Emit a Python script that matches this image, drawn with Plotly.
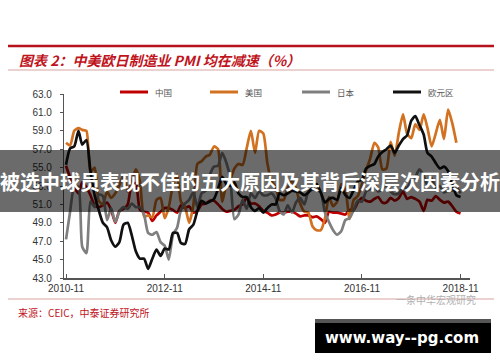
import plotly.graph_objects as go

# ---------------- data (monthly, 2010-11 .. 2018-11) ----------------
months = [f"{y}-{m:02d}" for y in range(2010, 2019) for m in range(1, 13)]
months = months[months.index("2010-11"):months.index("2018-11") + 1]

china = [55.2, 53.9,
         52.9, 52.2, 53.4, 52.9, 52.0, 50.9, 50.7, 50.9, 51.2, 50.4, 49.0, 50.3,
         50.5, 51.0, 53.1, 53.3, 50.4, 50.2, 50.1, 49.2, 49.8, 50.2, 50.6, 50.6,
         50.4, 50.1, 50.9, 50.6, 50.8, 50.1, 50.3, 51.0, 51.1, 51.4, 51.4, 51.0,
         50.5, 50.2, 50.3, 50.4, 50.8, 51.0, 51.7, 51.1, 51.1, 50.8, 50.3, 50.1,
         49.8, 49.9, 50.1, 50.1, 50.2, 50.2, 50.0, 49.7, 49.8, 49.8, 49.6, 49.7,
         49.4, 49.0, 50.2, 50.1, 50.1, 50.0, 49.9, 50.4, 50.4, 51.2, 51.7, 51.4,
         51.3, 51.6, 51.8, 51.2, 51.2, 51.7, 51.4, 51.7, 52.4, 51.6, 51.8, 51.6,
         51.3, 50.3, 51.5, 51.4, 51.9, 51.5, 51.2, 51.3, 50.8, 50.2, 50.0]

usa = [57.7, 57.4,
       59.0, 59.3, 59.1, 59.0, 54.5, 55.0, 51.4, 51.0, 52.4, 51.7, 52.2, 53.1,
       54.1, 52.4, 53.4, 54.8, 53.5, 49.7, 49.8, 49.6, 51.5, 51.7, 49.5, 50.7,
       53.1, 54.2, 51.3, 50.7, 49.0, 50.9, 55.4, 55.7, 56.2, 56.4, 57.3, 57.0,
       51.3, 53.2, 53.7, 54.9, 55.4, 55.3, 57.1, 59.0, 56.6, 59.0, 58.7, 55.5,
       53.5, 52.9, 51.5, 51.5, 52.8, 53.5, 52.7, 51.1, 50.2, 50.1, 48.6, 48.2,
       48.2, 49.5, 51.8, 50.8, 51.3, 53.2, 52.6, 49.4, 51.5, 51.9, 53.2, 54.7,
       56.0, 57.7, 57.2, 54.8, 54.9, 57.8, 56.3, 58.8, 60.8, 58.7, 58.2, 59.7,
       59.1, 60.8, 59.3, 57.3, 58.7, 60.2, 58.1, 61.3, 59.8, 57.7]

japan = [47.2, 50.2,
         52.9, 52.9, 46.4, 45.7, 51.3, 50.7, 52.1, 51.9, 49.3, 50.6, 49.1, 50.2,
         50.7, 50.5, 51.1, 50.7, 50.7, 49.9, 47.9, 47.7, 48.0, 46.9, 46.5, 45.0,
         47.7, 48.5, 50.4, 51.1, 51.5, 52.3, 50.7, 52.2, 52.5, 54.2, 55.1, 55.2,
         56.6, 55.5, 53.9, 49.4, 49.9, 51.5, 50.5, 52.2, 51.7, 52.4, 52.0, 52.0,
         52.2, 51.6, 50.3, 49.9, 50.9, 50.1, 51.2, 51.7, 51.0, 52.4, 52.6, 52.6,
         52.3, 50.1, 49.1, 48.2, 47.7, 48.1, 49.3, 49.5, 50.4, 51.4, 51.3, 52.4,
         52.7, 53.3, 52.4, 52.7, 53.1, 52.4, 52.1, 52.2, 52.9, 52.8, 53.6, 54.0,
         54.8, 54.1, 53.1, 53.8, 52.8, 53.0, 52.3, 52.5, 52.5, 52.9, 52.2]

euro = [55.3, 57.1,
        57.3, 59.0, 57.5, 58.0, 54.6, 52.0, 50.4, 49.0, 48.5, 47.1, 46.4, 46.9,
        48.8, 49.0, 47.7, 45.9, 45.1, 45.1, 44.0, 45.1, 46.1, 45.4, 46.2, 46.1,
        47.9, 47.9, 46.8, 46.7, 48.3, 48.8, 50.3, 51.4, 51.1, 51.3, 51.6, 52.7,
        54.0, 53.2, 53.0, 53.4, 52.2, 51.8, 51.8, 50.7, 50.3, 50.6, 50.1, 50.6,
        51.0, 51.0, 52.2, 52.0, 52.2, 52.5, 52.4, 52.3, 52.0, 52.3, 52.8, 53.2,
        52.3, 51.2, 51.6, 51.7, 51.5, 52.8, 52.0, 51.7, 52.6, 53.5, 53.7, 54.9,
        55.2, 55.4, 56.2, 56.7, 57.0, 57.4, 56.6, 57.4, 58.1, 58.5, 60.1, 60.6,
        59.6, 58.6, 56.6, 56.2, 55.5, 54.9, 55.1, 54.6, 53.2, 52.0, 51.8]

series_names = ["中国", "美国", "日本", "欧元区"]
series_values = [china, usa, japan, euro]
series_colors = ["#C00000", "#D2711F", "#7F7F7F", "#111111"]

x_tick_labels = ["2010-11", "2012-11", "2014-11", "2016-11", "2018-11"]
y_ticks = [43, 45, 47, 49, 51, 53, 55, 57, 59, 61, 63]

title_text = "图表 2：中美欧日制造业 PMI 均在减速（%）"
source_text = "来源：CEIC，中泰证券研究所"
watermark_text = "一条中华宏观研究"
banner_text = "被选中球员表现不佳的五大原因及其背后深层次因素分析"
site_text = "www.way--pg.com"

# ---------------- figure ----------------
W, H = 500, 362
CJK = "Noto Sans CJK SC"
LAT = "Liberation Sans, Arial, sans-serif"

def px(x):
    return x / W

def py(y):
    return (H - y) / H

fig = go.Figure()
for name, vals, col in zip(series_names, series_values, series_colors):
    fig.add_trace(go.Scatter(
        x=months[:len(vals)], y=vals, name=name, mode="lines",
        line=dict(color=col, width=2.7, shape="spline", smoothing=0.6),
        hoverinfo="skip", showlegend=False))

fig.update_layout(
    width=W, height=H,
    margin=dict(l=0, r=0, t=0, b=0, autoexpand=False),
    paper_bgcolor="white", plot_bgcolor="white",
    showlegend=False,
    xaxis=dict(domain=[px(64), px(470)], type="date",
               range=["2010-10-17", "2019-01-10"],
               tickvals=[d + "-01" for d in x_tick_labels], ticktext=x_tick_labels,
               showgrid=False, zeroline=False,
               showline=True, linecolor="#555555", linewidth=1.5,
               ticks="inside", ticklen=4, tickcolor="#555555",
               tickfont=dict(family=LAT, size=10, color="#333333")),
    yaxis=dict(domain=[py(278), py(94)], range=[43, 63],
               tickvals=y_ticks, ticktext=[f"{v:.1f}" for v in y_ticks],
               showgrid=False, zeroline=False,
               showline=True, linecolor="#555555", linewidth=1.2,
               ticks="outside", ticklen=3, tickcolor="#555555",
               ticklabelstandoff=6,
               tickfont=dict(family=LAT, size=10, color="#333333")),
)

shapes = [
    dict(type="line", xref="paper", yref="paper", x0=px(8), x1=px(494), y0=py(46), y1=py(46),
         line=dict(color="#B5121B", width=2.5)),
    dict(type="line", xref="paper", yref="paper", x0=px(8), x1=px(494), y0=py(70), y1=py(70),
         line=dict(color="#D9A3A3", width=1)),
    dict(type="line", xref="paper", yref="paper", x0=px(8), x1=px(494), y0=py(299), y1=py(299),
         line=dict(color="#D9A3A3", width=1)),
]

annotations = []
# manual legend
legend_x = [120, 210, 302, 393]
for name, col, lx in zip(series_names, series_colors, legend_x):
    shapes.append(dict(type="line", xref="paper", yref="paper",
                       x0=px(lx), x1=px(lx + 28), y0=py(92), y1=py(92),
                       line=dict(color=col, width=3)))
    annotations.append(dict(text=name, xref="paper", yref="paper", x=px(lx + 33), y=py(92),
                            xanchor="left", yanchor="middle", showarrow=False,
                            font=dict(family=CJK, size=8.5, color="#555555")))

shapes += [
    dict(type="rect", xref="paper", yref="paper", x0=0, x1=1, y0=py(212), y1=py(150),
         fillcolor="rgba(0,0,0,0.58)", line=dict(width=0), layer="above"),
    dict(type="rect", xref="paper", yref="paper", x0=px(315), x1=px(491), y0=py(323), y1=py(319),
         fillcolor="#555555", line=dict(width=0), layer="above"),
    dict(type="rect", xref="paper", yref="paper", x0=px(315), x1=px(491), y0=py(353), y1=py(323),
         fillcolor="#000000", line=dict(width=0), layer="above"),
]
fig.update_layout(shapes=shapes)

annotations += [
    dict(text=title_text, xref="paper", yref="paper", x=px(17), y=py(60),
         xanchor="left", yanchor="middle", showarrow=False,
         font=dict(family=CJK, size=14, color="#C0141C", weight="bold", style="italic")),
    dict(text=source_text, xref="paper", yref="paper", x=px(16), y=py(312),
         xanchor="left", yanchor="middle", showarrow=False,
         font=dict(family=CJK, size=10, color="#C0141C")),
    dict(text=watermark_text, xref="paper", yref="paper", x=px(478), y=py(299),
         xanchor="right", yanchor="middle", showarrow=False,
         font=dict(family=CJK, size=10, color="#B0B0B0")),
    dict(text=banner_text, xref="paper", yref="paper", x=0.5, y=py(181),
         xanchor="center", yanchor="middle", showarrow=False,
         font=dict(family=CJK, size=20, color="white", weight="bold")),
    dict(text=site_text, xref="paper", yref="paper", x=px(402), y=py(338),
         xanchor="center", yanchor="middle", showarrow=False,
         font=dict(family="DejaVu Sans, sans-serif", size=15, color="white", weight="bold")),
]
fig.update_layout(annotations=annotations)

fig.write_html("out.html")
